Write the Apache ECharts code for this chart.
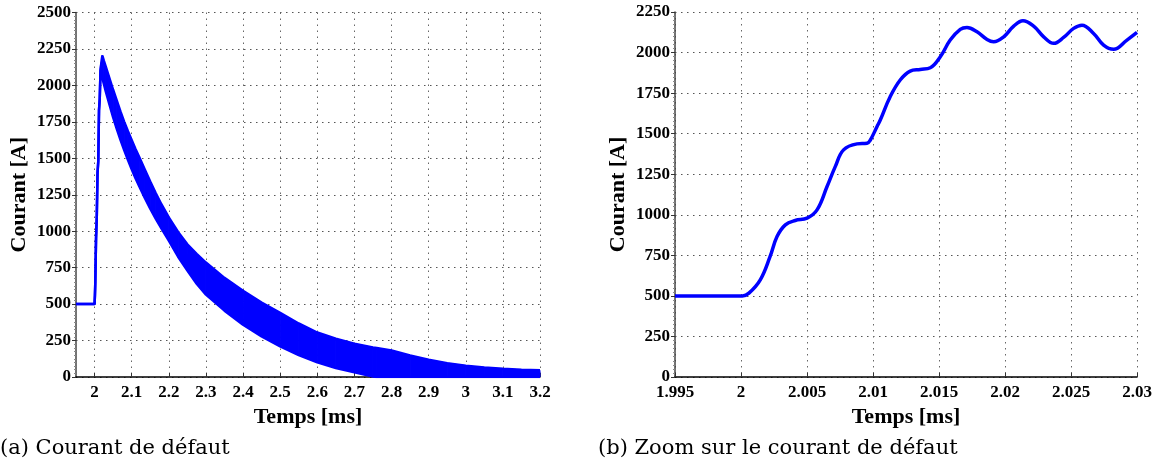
<!DOCTYPE html>
<html><head><meta charset="utf-8">
<script src="https://cdn.jsdelivr.net/npm/echarts@6/dist/echarts.min.js"></script>
<style>html,body{margin:0;padding:0;background:#fff}#c{width:1157px;height:465px}</style>
</head><body><div id="c"></div>
<script>
// ---- Left panel (a): envelope of the fast-oscillating fault current ----
const timeA = [1.95, 2.0, 2.001, 2.002, 2.004, 2.006, 2.008, 2.010, 2.012, 2.014, 2.016, 2.018, 2.021, 2.025, 2.03, 2.04, 2.05, 2.06, 2.07, 2.08, 2.09, 2.1, 2.11, 2.12, 2.135, 2.15, 2.165, 2.18, 2.2, 2.225, 2.25, 2.275, 2.3, 2.35, 2.4, 2.45, 2.5, 2.55, 2.6, 2.65, 2.7, 2.75, 2.76, 2.8, 2.85, 2.9, 2.95, 3.0, 3.05, 3.1, 3.15, 3.2];
const upperA = [500, 500, 560, 650, 950, 1100, 1400, 1480, 1830, 1910, 2100, 2150, 2205, 2170, 2130, 2050, 1970, 1895, 1820, 1750, 1685, 1625, 1565, 1510, 1425, 1340, 1260, 1185, 1095, 995, 910, 845, 785, 680, 592, 510, 440, 367, 305, 262, 228, 203, 199, 182, 147, 118, 95, 78, 65, 56, 50, 46];
const lowerA = [500, 500, 560, 650, 950, 1100, 1400, 1480, 1830, 1910, 2100, 2140, 2050, 2010, 1960, 1870, 1780, 1700, 1625, 1555, 1488, 1425, 1365, 1310, 1230, 1155, 1085, 1020, 935, 825, 730, 640, 565, 455, 358, 278, 210, 150, 100, 62, 33, 3, 0, 0, 0, 0, 0, 0, 0, 0, 0, 0];
const ticksXA = [2, 2.1, 2.2, 2.3, 2.4, 2.5, 2.6, 2.7, 2.8, 2.9, 3, 3.1, 3.2];

// ---- Right panel (b): zoom on the fault current ----
const timeB = [1.995, 2.0, 2.0001, 2.0006, 2.00146, 2.0022, 2.00273, 2.00336, 2.00411, 2.005, 2.00576, 2.00652, 2.00714, 2.00777, 2.00879, 2.00955, 2.0098, 2.0103, 2.01055, 2.0113, 2.01206, 2.01282, 2.01358, 2.01434, 2.0151, 2.01585, 2.01661, 2.01712, 2.01788, 2.01864, 2.01914, 2.0199, 2.02066, 2.02136, 2.02217, 2.02293, 2.02369, 2.02444, 2.0252, 2.02583, 2.02671, 2.02747, 2.02823, 2.02924, 2.03];
const currentB = [500, 500, 500, 517, 599, 742, 866, 938, 965, 979, 1030, 1174, 1297, 1400, 1437, 1441, 1461, 1543, 1584, 1728, 1831, 1886, 1896, 1906, 1974, 2077, 2143, 2155, 2128, 2081, 2067, 2097, 2163, 2196, 2163, 2097, 2057, 2093, 2149, 2169, 2118, 2046, 2020, 2077, 2124];
const ticksXB = [1.995, 2, 2.005, 2.01, 2.015, 2.02, 2.025, 2.03];

const xLabel = 'Temps [ms]';
const yLabel = 'Courant [A]';
const captionA = '(a) Courant de défaut';
const captionB = '(b) Zoom sur le courant de défaut';

const FONT = '"Liberation Serif", "Times New Roman", serif';
const CAPFONT = '"DejaVu Serif", serif';
const BLUE = '#0000ff';

// segments of the envelope band: [t0, lo0, up0, t1, lo1, up1]
const segA = timeA.slice(0, -1).map((t, i) => [t, lowerA[i], upperA[i], timeA[i + 1], lowerA[i + 1], upperA[i + 1]]);

function xAxisCfg(gi, min, max, ticks) {
  return {
    type: 'value', gridIndex: gi, min: min, max: max,
    name: xLabel, nameLocation: 'middle', nameGap: 22,
    nameTextStyle: {fontFamily: FONT, fontWeight: 'bold', fontSize: 22, color: '#000'},
    axisLine: {show: true, onZero: false, lineStyle: {color: '#000', width: 1.5}},
    axisTick: {show: true, inside: true, length: 4, customValues: ticks, lineStyle: {color: '#333'}},
    axisLabel: {customValues: ticks, fontFamily: FONT, fontWeight: 'bold', fontSize: 17, color: '#000', margin: 7,
      formatter: v => String(+(+v).toFixed(3))},
    splitLine: {show: true, lineStyle: {color: '#666', width: 1, type: [1.5, 4.5]}},
    minorTick: {show: false}
  };
}
function yAxisCfg(gi, max) {
  return {
    type: 'value', gridIndex: gi, min: 0, max: max, interval: 250,
    name: yLabel, nameLocation: 'middle', nameGap: 46,
    nameTextStyle: {fontFamily: FONT, fontWeight: 'bold', fontSize: 22, color: '#000'},
    axisLine: {show: true, lineStyle: {color: '#444', width: 1.5}},
    axisTick: {show: true, inside: false, length: 4, lineStyle: {color: '#333'}},
    minorTick: {show: true, splitNumber: 10, length: 2, lineStyle: {color: '#888'}},
    axisLabel: {fontFamily: FONT, fontWeight: 'bold', fontSize: 17, color: '#000', margin: 5,
      formatter: v => String(v)},
    splitLine: {show: true, lineStyle: {color: '#555', width: 1, type: [1.5, 4.5]}}
  };
}

const chart = echarts.init(document.getElementById('c'), null, {renderer: 'canvas'});
chart.setOption({
  animation: false,
  backgroundColor: '#fff',
  grid: [
    {left: 76, right: 617, top: 12.5, bottom: 88},
    {left: 675, right: 20, top: 12, bottom: 88}
  ],
  xAxis: [xAxisCfg(0, 1.95, 3.2, ticksXA), xAxisCfg(1, 1.995, 2.03, ticksXB)],
  yAxis: [yAxisCfg(0, 2500), yAxisCfg(1, 2250)],
  series: [
    {type: 'custom', xAxisIndex: 0, yAxisIndex: 0, data: segA,
      encode: {x: [0, 3], y: [1, 2, 4, 5]},
      renderItem: (params, api) => {
        const a = api.coord([api.value(0), api.value(1)]);
        const b = api.coord([api.value(3), api.value(4)]);
        const c = api.coord([api.value(3), api.value(5)]);
        const d = api.coord([api.value(0), api.value(2)]);
        return {type: 'polygon', shape: {points: [a, b, c, d]},
          style: {fill: BLUE, stroke: BLUE, lineWidth: 1}};
      }},
    {type: 'line', xAxisIndex: 0, yAxisIndex: 0, symbol: 'none', clip: true,
      data: timeA.map((t, i) => [t, lowerA[i]]), lineStyle: {color: BLUE, width: 2.5}},
    {type: 'line', xAxisIndex: 0, yAxisIndex: 0, symbol: 'none', clip: true,
      data: timeA.map((t, i) => [t, upperA[i]]), lineStyle: {color: BLUE, width: 2.5}},
    {type: 'line', xAxisIndex: 1, yAxisIndex: 1, symbol: 'none', smooth: 0.4, clip: true,
      data: timeB.map((t, i) => [t, currentB[i]]), lineStyle: {color: BLUE, width: 3.5}}
  ],
  graphic: [
    {type: 'text', left: 0, top: 438, style: {text: captionA, font: '21px ' + CAPFONT, fill: '#000'}},
    {type: 'text', left: 598, top: 438, style: {text: captionB, font: '21px ' + CAPFONT, fill: '#000'}}
  ]
});
</script></body></html>
